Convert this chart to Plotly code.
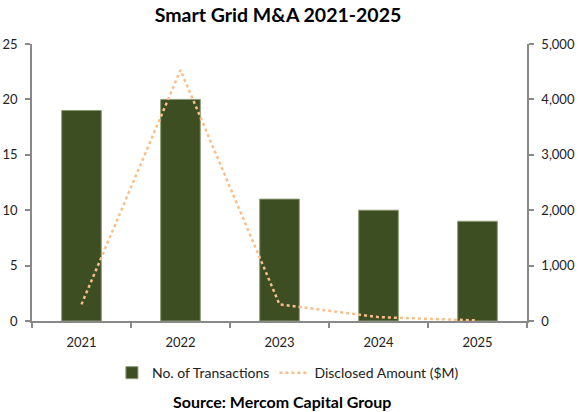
import plotly.graph_objects as go

years = ["2021", "2022", "2023", "2024", "2025"]
transactions = [19, 20, 11, 10, 9]
disclosed_amount = [300, 4530, 300, 70, 10]

font = "Lato, Open Sans, sans-serif"
axis_color = "#898989"

fig = go.Figure()

fig.add_trace(go.Bar(
    x=years, y=transactions, name="No. of Transactions",
    marker=dict(color="#3d4f22", line=dict(color="#8a9a70", width=1)),
    width=0.4,
))

fig.add_trace(go.Scatter(
    x=years, y=disclosed_amount, name="Disclosed Amount ($M)", yaxis="y2",
    mode="lines", line=dict(color="#f9be8a", width=2.5, dash="dot"),
))

fig.update_layout(
    width=583, height=412,
    margin=dict(l=32, r=56, t=44, b=91),
    paper_bgcolor="white", plot_bgcolor="white",
    font=dict(family=font, size=13, color="#222"),
    title=dict(text="<b>Smart Grid M&A 2021-2025</b>", x=0.497, xanchor="center",
               xref="paper", y=0.964, yanchor="middle",
               font=dict(size=19.5, color="black")),
    xaxis=dict(showline=True, linecolor=axis_color, linewidth=1.5,
               ticks="outside", tickson="boundaries", tickcolor=axis_color,
               ticklen=5, tickwidth=1.5, ticklabelstandoff=9, automargin=False),
    yaxis=dict(range=[0, 25], dtick=5, showgrid=False, showline=True,
               linecolor=axis_color, linewidth=1.5, ticks="outside",
               tickcolor=axis_color, ticklen=5, tickwidth=1.5, zeroline=False,
               ticklabelstandoff=5, automargin=False),
    yaxis2=dict(range=[0, 5000], dtick=1000, overlaying="y", side="right",
                showgrid=False, showline=True, linecolor=axis_color, linewidth=1.5,
                ticks="outside", tickcolor=axis_color, ticklen=5, tickwidth=1.5,
                tickformat=",", zeroline=False, ticklabelstandoff=5,
                automargin=False),
    legend=dict(orientation="h", x=0.517, xanchor="center", y=-0.188,
                yanchor="middle", font=dict(size=14)),
    showlegend=True,
    annotations=[dict(text="<b>Source: Mercom Capital Group</b>", xref="paper",
                      yref="paper", x=0.505, y=-0.289, xanchor="center",
                      yanchor="middle", showarrow=False,
                      font=dict(size=16, color="black"))],
)

# drop the default page margin so the figure sits at the window's corner
fig.write_html("out.html", config={"displayModeBar": False},
               post_script="document.body.style.margin='0';")
